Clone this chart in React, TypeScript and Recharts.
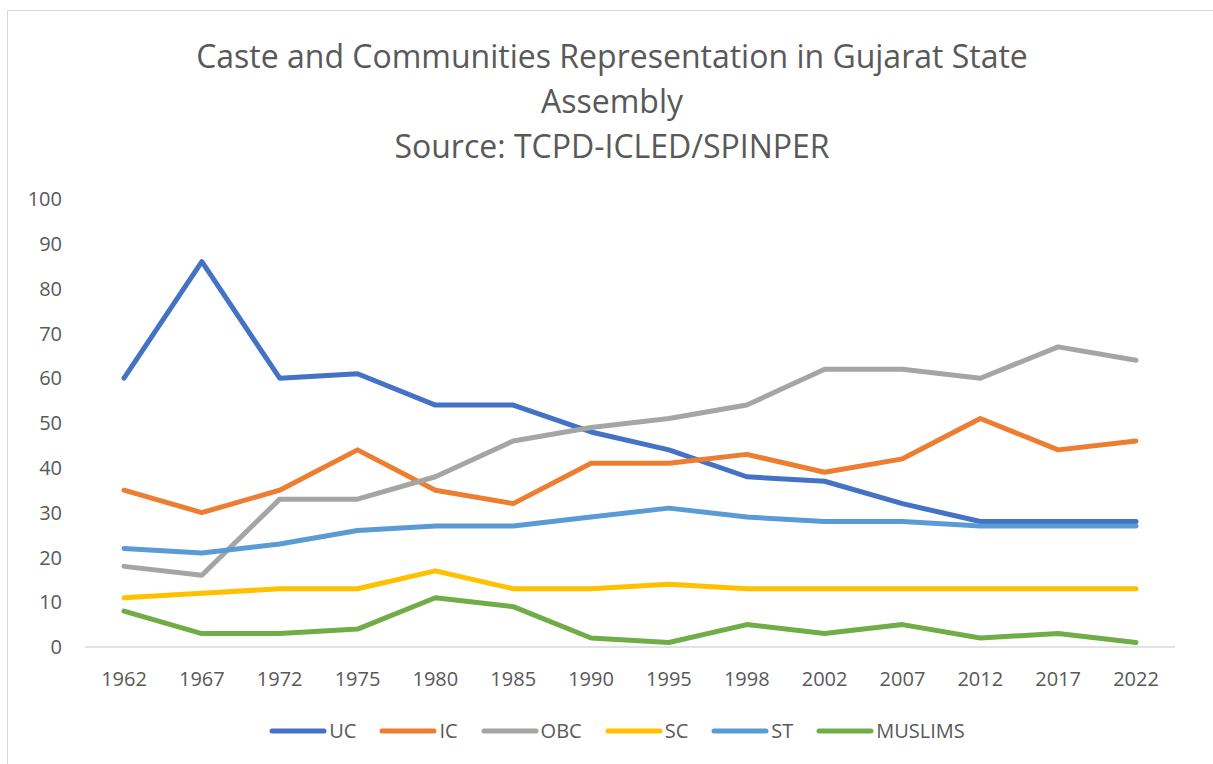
import { LineChart, Line, XAxis, YAxis } from 'recharts'

const YEARS = ['1962', '1967', '1972', '1975', '1980', '1985', '1990', '1995', '1998', '2002', '2007', '2012', '2017', '2022']
const UC = [60, 86, 60, 61, 54, 54, 48, 44, 38, 37, 32, 28, 28, 28]
const IC = [35, 30, 35, 44, 35, 32, 41, 41, 43, 39, 42, 51, 44, 46]
const OBC = [18, 16, 33, 33, 38, 46, 49, 51, 54, 62, 62, 60, 67, 64]
const SC = [11, 12, 13, 13, 17, 13, 13, 14, 13, 13, 13, 13, 13, 13]
const ST = [22, 21, 23, 26, 27, 27, 29, 31, 29, 28, 28, 27, 27, 27]
const MUSLIMS = [8, 3, 3, 4, 11, 9, 2, 1, 5, 3, 5, 2, 3, 1]
const Y_TICKS = [0, 10, 20, 30, 40, 50, 60, 70, 80, 90, 100]

const SERIES = [
  { key: 'UC', values: UC, color: '#4472C4' },
  { key: 'IC', values: IC, color: '#ED7D31' },
  { key: 'OBC', values: OBC, color: '#A5A5A5' },
  { key: 'SC', values: SC, color: '#FFC000' },
  { key: 'ST', values: ST, color: '#5B9BD5' },
  { key: 'MUSLIMS', values: MUSLIMS, color: '#70AD47' },
]

const TITLE = ['Caste and Communities Representation in Gujarat State', 'Assembly', 'Source: TCPD-ICLED/SPINPER']

const FONT = '"Open Sans", Lato, sans-serif'
const TEXT = '#595959'

const data = YEARS.map((year, i) => {
  const row: Record<string, string | number> = { year }
  for (const s of SERIES) row[s.key] = s.values[i]
  return row
})

// Excel style legend: short thick line then the label
function ChartLegend() {
  return (
    <div style={{ display: 'flex', justifyContent: 'center', gap: 23, fontFamily: FONT, fontSize: 20, color: TEXT, lineHeight: '28px' }}>
      {SERIES.map(s => (
        <div key={s.key} style={{ display: 'flex', alignItems: 'center' }}>
          <svg width={58} height={8} style={{ marginRight: 2 }}>
            <line x1={3} y1={4} x2={55} y2={4} stroke={s.color} strokeWidth={5} strokeLinecap="round" />
          </svg>
          <span>{s.key}</span>
        </div>
      ))}
    </div>
  )
}

export default function App() {
  return (
    <div style={{ position: 'absolute', left: 0, top: 0, width: 1213, height: 764, background: '#fff', overflow: 'hidden' }}>
      <div style={{ position: 'absolute', left: 7, top: 10, width: 1300, height: 900, border: '1px solid #d9d9d9' }} />
      <div style={{ position: 'absolute', left: 0, top: 33, width: 1224, textAlign: 'center', fontFamily: FONT, fontSize: 32, color: TEXT, lineHeight: '45px' }}>
        {TITLE.map(t => <div key={t}>{t}</div>)}
      </div>
      <div style={{ position: 'absolute', left: 0, top: 0 }}>
        <LineChart width={1213} height={764} data={data} margin={{ top: 199, right: 38, bottom: 87, left: 25 }}>
          <XAxis
            dataKey="year"
            axisLine={{ stroke: '#d9d9d9', strokeWidth: 1.5 }}
            tickLine={false}
            tickMargin={19}
            tick={{ fontSize: 20, fill: TEXT, fontFamily: FONT }}
            interval={0}
            height={30}
            padding={{ left: 39, right: 39 }}
          />
          <YAxis
            domain={[0, 100]}
            ticks={Y_TICKS}
            interval={0}
            axisLine={false}
            tickLine={false}
            tickMargin={17}
            width={60}
            tick={{ fontSize: 20, fill: TEXT, fontFamily: FONT }}
          />
          {SERIES.map(s => (
            <Line
              key={s.key}
              dataKey={s.key}
              stroke={s.color}
              strokeWidth={5}
              dot={false}
              activeDot={false}
              strokeLinecap="round"
              strokeLinejoin="round"
              isAnimationActive={false}
            />
          ))}
        </LineChart>
      </div>
      <div style={{ position: 'absolute', left: 0, top: 717, width: 1234 }}>
        <ChartLegend />
      </div>
    </div>
  )
}
